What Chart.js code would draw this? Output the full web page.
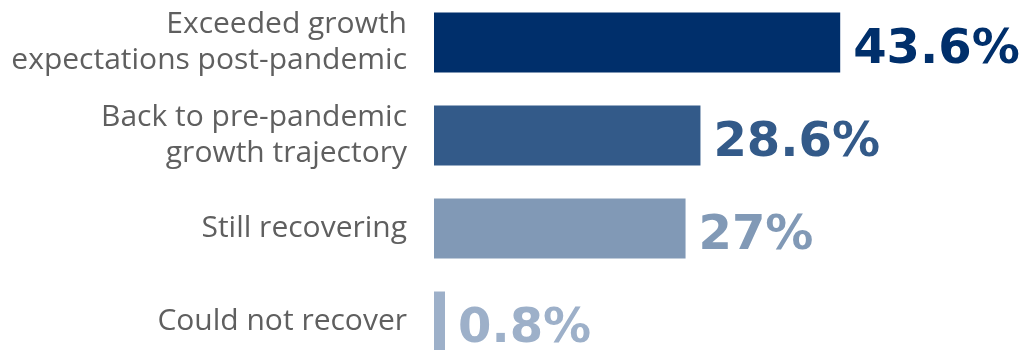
<!DOCTYPE html>
<html>
<head>
<meta charset="utf-8">
<script src="https://cdn.jsdelivr.net/npm/chart.js@4.4.0/dist/chart.umd.min.js"></script>
<style>
  html, body { margin: 0; padding: 0; background: #fff; overflow: hidden; }
  #wrap { position: relative; width: 1023px; height: 372px; margin-top: -4px; }
</style>
</head>
<body>
<div id="wrap"><canvas id="recoveryChart"></canvas></div>
<script>
// Recovery status survey
const categories = [
    ['Exceeded growth', 'expectations post-pandemic'],
    ['Back to pre-pandemic', 'growth trajectory'],
    'Still recovering',
    'Could not recover'
];
const shares = [43.6, 28.6, 27, 0.8];
const shareLabels = ['43.6%', '28.6%', '27%', '0.8%'];
const barColors = ['#002f6b', '#335a89', '#8199b6', '#9db0c9'];

// writes the percentage just past the end of each bar
const valueLabels = {
    id: 'valueLabels',
    afterDatasetsDraw(chart) {
        const ctx = chart.ctx;
        const meta = chart.getDatasetMeta(0);
        ctx.save();
        ctx.font = 'bold 48px "DejaVu Sans"';
        ctx.textAlign = 'left';
        ctx.textBaseline = 'alphabetic';
        meta.data.forEach(function(bar, i) {
            ctx.fillStyle = barColors[i];
            ctx.fillText(shareLabels[i], bar.x + 13, bar.y + 20);
        });
        ctx.restore();
    }
};

document.addEventListener('DOMContentLoaded', function() {
    const ctx = document.getElementById('recoveryChart').getContext('2d');
    new Chart(ctx, {
        type: 'bar',
        data: {
            labels: categories,
            datasets: [{
                data: shares,
                backgroundColor: barColors,
                borderWidth: 0,
                categoryPercentage: 0.645,
                barPercentage: 1.0,
                minBarLength: 11
            }]
        },
        options: {
            indexAxis: 'y',
            responsive: true,
            maintainAspectRatio: false,
            animation: false,
            layout: { padding: { left: 0, right: 30, top: 0, bottom: 0 } },
            plugins: {
                legend: { display: false },
                tooltip: { enabled: false }
            },
            scales: {
                x: {
                    display: false,
                    min: 0,
                    max: 60
                },
                y: {
                    afterFit: function(scale) {
                        // fixed label column, and no extra room for the two-line labels
                        scale.width = 434;
                        scale.paddingTop = 0;
                        scale.paddingBottom = 0;
                    },
                    grid: { display: false, drawTicks: false },
                    border: { display: false },
                    ticks: {
                        padding: 27,
                        color: '#5f5f5f',
                        font: { family: '"Open Sans"', size: 30, lineHeight: 1.2 }
                    }
                }
            }
        },
        plugins: [valueLabels]
    });
});
</script>
</body>
</html>
